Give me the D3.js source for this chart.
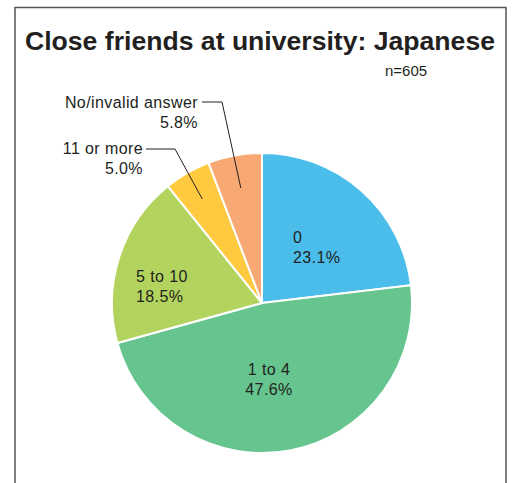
<!DOCTYPE html>
<html>
<head>
<meta charset="utf-8">
<script src="https://cdn.jsdelivr.net/npm/d3@7"></script>
<style>
  html, body { margin: 0; padding: 0; background: #fff; }
  svg { display: block; font-family: "Liberation Sans", Arial, sans-serif; }
</style>
</head>
<body>
<svg id="chart" width="512" height="483"></svg>
<script>
// Close friends at university (Japanese respondents), n=605
const categories = ["0", "1 to 4", "5 to 10", "11 or more", "No/invalid answer"];
const shares = [23.1, 47.6, 18.5, 5.0, 5.8];
const colors = ["#4bbdeb", "#66c48f", "#b3d35f", "#ffca3f", "#f8a873"];
const sampleLabel = "n=605";

const svg = d3.select("#chart");
const cx = 262, cy = 303, r = 150;
const ink = "#231f20";

// frame
svg.append("path")
  .attr("d", "M15,490 V7.5 H506 V490")
  .attr("fill", "none").attr("stroke", "#555").attr("stroke-width", 1.5);

svg.append("text")
  .attr("x", 260).attr("y", 50)
  .attr("text-anchor", "middle")
  .attr("font-size", 26.6).attr("font-weight", "bold").attr("fill", ink)
  .text("Close friends at university: Japanese");

svg.append("text")
  .attr("x", 385).attr("y", 76)
  .attr("font-size", 15).attr("fill", ink)
  .text(sampleLabel);

const data = categories.map((c, i) => ({ cat: c, v: shares[i], color: colors[i] }));
const pie = d3.pie().value(d => d.v).sort(null);
const arcs = pie(data);
const arc = d3.arc().innerRadius(0).outerRadius(r);

const g = svg.append("g").attr("transform", `translate(${cx},${cy})`);
g.selectAll("path.slice").data(arcs).join("path")
  .attr("class", "slice")
  .attr("d", arc)
  .attr("fill", d => d.data.color)
  .attr("stroke", "#fff").attr("stroke-width", 2).attr("stroke-linejoin", "round");

const fs = 16, ls = 0.4;

// labels inside the larger slices
const inside = [
  { i: 0, x: 293, y: 243, anchor: "start" },
  { i: 1, x: 269, y: 375, anchor: "middle" },
  { i: 2, x: 136, y: 282, anchor: "start" }
];
inside.forEach(p => {
  const d = arcs[p.i].data;
  const t = svg.append("text").attr("font-size", fs).attr("letter-spacing", ls)
    .attr("fill", ink).attr("text-anchor", p.anchor);
  t.append("tspan").attr("x", p.x).attr("y", p.y).text(d.cat);
  t.append("tspan").attr("x", p.x).attr("y", p.y + 20).text(d.v.toFixed(1) + "%");
});

// outside labels with leader lines for the small slices
const outside = [
  { i: 4, tx: 198, ty: 108, lx0: 202, lx1: 222, ly: 102, r0: 0.78 },
  { i: 3, tx: 143, ty: 154, lx0: 146, lx1: 175, ly: 149, r0: 0.8 }
];
outside.forEach(p => {
  const a = arcs[p.i];
  const mid = (a.startAngle + a.endAngle) / 2;
  const ex = cx + Math.sin(mid) * r * p.r0;
  const ey = cy - Math.cos(mid) * r * p.r0;
  svg.append("path")
    .attr("d", `M${p.lx0},${p.ly} H${p.lx1} L${ex},${ey}`)
    .attr("fill", "none").attr("stroke", ink).attr("stroke-width", 1);
  const t = svg.append("text").attr("font-size", fs).attr("letter-spacing", ls)
    .attr("fill", ink).attr("text-anchor", "end");
  t.append("tspan").attr("x", p.tx).attr("y", p.ty).text(a.data.cat);
  t.append("tspan").attr("x", p.tx).attr("y", p.ty + 20).text(a.data.v.toFixed(1) + "%");
});
</script>
</body>
</html>
